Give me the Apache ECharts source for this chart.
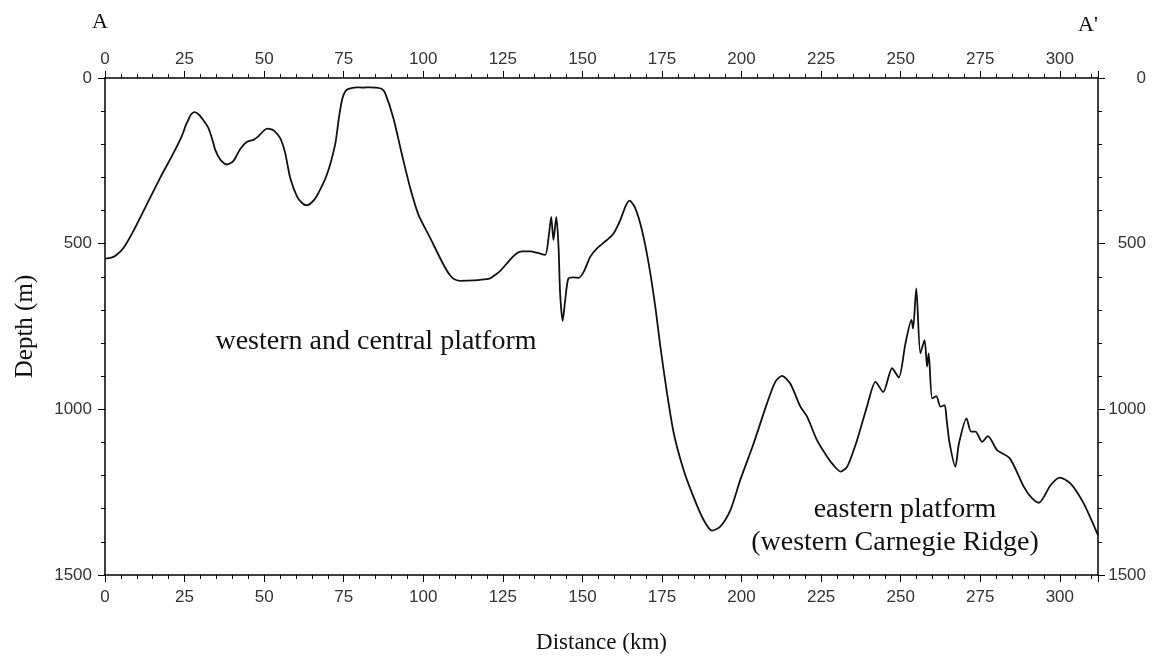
<!DOCTYPE html>
<html>
<head>
<meta charset="utf-8">
<script src="https://cdn.jsdelivr.net/npm/echarts@6/dist/echarts.min.js"></script>
<style>
html,body{margin:0;padding:0;background:#fff;}
#c{width:1167px;height:665px;}
</style>
</head>
<body>
<div id="c"></div>
<script>
// Distance along profile (km)
const distanceKm = [0,2,3.5,5.8,8.9,13.1,17.3,21,24.1,25.5,26.2,27,28.1,29.2,30.4,32.5,34,34.6,36.2,37.5,38.3,40.3,42.4,44.5,46.8,48.7,50,51,52,53.1,55,56.6,58.2,60.3,62,63.4,65,66.5,69.7,72.3,73.5,74.5,75.4,76.5,79.1,81,83.3,85,87,88,90.6,93.3,95.9,98.5,102.2,105.8,108,109.5,111.6,115.8,119,121,122.5,124.2,127.8,129.5,131,133.6,136,138.3,139.4,140.2,140.9,141.8,142.5,143,143.8,144.6,145.6,147.2,148.8,150.4,152.5,154.6,157.7,159.8,161.9,163.5,164.8,166.6,168.7,170.8,172.9,174.5,176.6,178.7,181.8,184.9,188.1,190.7,193.3,196.5,199.6,203.8,208,210.6,212.7,215.3,218.5,220.6,223.7,226.9,229,231.1,233.2,236.3,239.4,242.1,244.5,247.3,249.4,251.5,253.4,253.9,254.9,256.2,257.5,258.3,258.8,259.9,261.2,262.5,263.8,264.4,265.3,267.2,268.3,270.7,272.1,273.5,275.6,277.4,280.3,284.3,288.7,291.3,293.4,297.1,300,303.4,307.5,312];
// Depth (m)
const depthM = [545,542,535,513,462,382,302,236,176,140,126,110,103,108,121,151,195,216,246,258,261,251,216,193,186,171,158,153,154,159,181,226,302,357,378,384,375,357,292,201,120,65,42,33,28,29,28,29,33,45,121,231,332,413,483,553,590,606,612,611,608,605,595,582,543,528,523,523,528,534,479,419,489,419,509,650,733,670,605,602,603,585,539,514,489,469,429,388,370,393,459,559,690,811,952,1072,1183,1264,1334,1366,1354,1304,1213,1103,982,917,899,922,992,1022,1093,1143,1170,1188,1173,1093,992,917,948,876,904,801,730,756,635,831,791,871,831,967,960,992,987,1027,1098,1173,1103,1027,1067,1067,1098,1081,1123,1148,1234,1269,1282,1229,1206,1224,1284,1380];
const xTicks = [0,25,50,75,100,125,150,175,200,225,250,275,300];
const yTicks = [0,500,1000,1500];
const endLabels = ["A", "A'"];
const notes = ["western and central platform", "eastern platform", "(western Carnegie Ridge)"];

const chart = echarts.init(document.getElementById('c'), null, {renderer:'canvas'});
const sans = 'Liberation Sans, Arial, sans-serif';
const serif = 'Liberation Serif, Times New Roman, serif';
const plain = v => String(v);
function mkAxis(extra, labelExtra){
  return Object.assign({
    type:'value',
    axisLine:{show:true, onZero:false, lineStyle:{color:'#000', width:1.5}},
    axisTick:{show:true, inside:false, length:7, lineStyle:{color:'#000', width:1}},
    minorTick:{show:true, splitNumber:5, length:4, lineStyle:{color:'#000', width:1}},
    splitLine:{show:false},
    minorSplitLine:{show:false},
    axisLabel:Object.assign({color:'#333', fontSize:17, fontFamily:sans, formatter:plain}, labelExtra)
  }, extra);
}

chart.setOption({
  backgroundColor:'#fff',
  animation:false,
  grid:{left:105, right:69, top:78, bottom:90, show:false},
  xAxis:[
    mkAxis({position:'bottom', min:xTicks[0], max:312, interval:25,
      name:'Distance (km)', nameLocation:'middle', nameGap:56,
      nameTextStyle:{fontFamily:serif, fontSize:23, color:'#111'}},
      {margin:14, showMaxLabel:false}),
    mkAxis({position:'top', min:xTicks[0], max:312, interval:25},
      {margin:10, showMaxLabel:false})
  ],
  yAxis:[
    mkAxis({position:'left', min:yTicks[0], max:yTicks[yTicks.length-1], interval:500, inverse:true,
      name:'Depth (m)', nameLocation:'middle', nameGap:67, nameRotate:90,
      nameTextStyle:{fontFamily:serif, fontSize:25, color:'#111'}},
      {margin:13}),
    mkAxis({position:'right', min:yTicks[0], max:yTicks[yTicks.length-1], interval:500, inverse:true},
      {margin:48, align:'right'})
  ],
  graphic:[
    {type:'text', left:92, top:11, style:{text:endLabels[0], font:'22px '+serif, fill:'#111'}},
    {type:'text', left:1078, top:14, style:{text:endLabels[1], font:'22px '+serif, fill:'#111'}},
    {type:'text', x:376, y:342, style:{text:notes[0], font:'28px '+serif, fill:'#111', textAlign:'center', textVerticalAlign:'middle'}},
    {type:'text', x:905, y:510, style:{text:notes[1], font:'28px '+serif, fill:'#111', textAlign:'center', textVerticalAlign:'middle'}},
    {type:'text', x:895, y:543, style:{text:notes[2], font:'28px '+serif, fill:'#111', textAlign:'center', textVerticalAlign:'middle'}}
  ],
  series:[{
    type:'line', xAxisIndex:0, yAxisIndex:0,
    data: distanceKm.map((d,i)=>[d, depthM[i]]),
    showSymbol:false, smooth:0.25,
    lineStyle:{color:'#111', width:1.8},
    silent:true
  }]
});
</script>
</body>
</html>
